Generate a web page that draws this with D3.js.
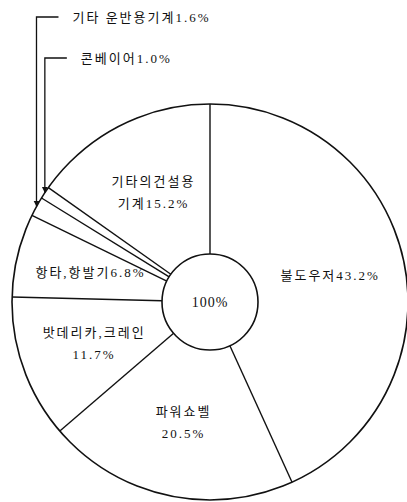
<!DOCTYPE html>
<html>
<head>
<meta charset="utf-8">
<script src="https://cdn.jsdelivr.net/npm/d3@7"></script>
<style>
    body { margin: 0; background: #fff; }
    svg text {
        font-family: "Liberation Serif", "Noto Sans CJK KR", serif;
        font-size: 13px;
        letter-spacing: 2px;
        fill: #111;
    }
    svg text.num { font-size: 14px; letter-spacing: 1px; }
</style>
</head>
<body>
<div id="chart"></div>
<script>
// shares of construction machinery, clockwise from 12 o'clock
const categories = ["불도우저", "파워쇼벨", "밧데리카,크레인", "항타,항발기", "기타 운반용기계", "콘베이어", "기타의건설용기계"];
const shares = [43.2, 20.5, 11.7, 6.8, 1.6, 1.0, 15.2];
const centerLabel = "100%";

// which slices get an outside label with an arrow (and the y of that label)
const outsideLabels = { "기타 운반용기계": 17, "콘베이어": 58 };
// where a label wraps: text before the break goes on the first line
const labelBreak = { "파워쇼벨": 4, "밧데리카,크레인": 8, "기타의건설용기계": 6 };

const width = 407, height = 502;
const cx = 210, cy = 302;
const outerR = 198, innerR = 48;

const svg = d3.select("#chart")
    .append("svg")
    .attr("width", width)
    .attr("height", height);

svg.append("defs").append("marker")
    .attr("id", "arrow")
    .attr("viewBox", "0 0 10 10")
    .attr("refX", 10)
    .attr("refY", 5)
    .attr("markerWidth", 6)
    .attr("markerHeight", 8)
    .attr("markerUnits", "userSpaceOnUse")
    .attr("orient", "auto")
    .append("path")
    .attr("d", "M0,0 L10,5 L0,10 Z")
    .attr("fill", "#111");

const data = categories.map((c, i) => ({ name: c, value: shares[i] }));

const pie = d3.pie().sort(null).value(d => d.value);
const arcs = pie(data);

const g = svg.append("g").attr("transform", `translate(${cx},${cy})`);

// outer circle
g.append("circle")
    .attr("r", outerR)
    .attr("fill", "none")
    .attr("stroke", "#111")
    .attr("stroke-width", 1.6);

// slice boundaries, from the inner circle out to the rim
g.selectAll("line.sep")
    .data(arcs)
    .enter()
    .append("line")
    .attr("class", "sep")
    .attr("x1", d => innerR * Math.sin(d.startAngle))
    .attr("y1", d => -innerR * Math.cos(d.startAngle))
    .attr("x2", d => outerR * Math.sin(d.startAngle))
    .attr("y2", d => -outerR * Math.cos(d.startAngle))
    .attr("stroke", "#111")
    .attr("stroke-width", 1.4);

// center circle
g.append("circle")
    .attr("r", innerR)
    .attr("fill", "#fff")
    .attr("stroke", "#111")
    .attr("stroke-width", 1.6);

g.append("text")
    .attr("class", "num")
    .attr("text-anchor", "middle")
    .attr("dy", "0.35em")
    .text(centerLabel);

const fmt = d => d.toFixed(1) + "%";

// inside labels
const labelArc = d3.arc().innerRadius(123).outerRadius(123);
const inside = arcs.filter(d => !(d.data.name in outsideLabels));

inside.forEach(d => {
    const [x, y] = labelArc.centroid(d);
    const full = d.data.name + fmt(d.data.value);
    const br = labelBreak[d.data.name];
    const lines = br === undefined ? [full] : [full.slice(0, br), full.slice(br)];
    const t = g.append("text")
        .attr("text-anchor", "middle")
        .attr("x", x)
        .attr("y", y - (lines.length - 1) * 11);
    lines.forEach((l, i) => {
        t.append("tspan")
            .attr("x", x)
            .attr("dy", i === 0 ? "0.35em" : 22)
            .text(l);
    });
});

// outside labels with arrows
arcs.filter(d => d.data.name in outsideLabels).forEach(d => {
    const mid = (d.startAngle + d.endAngle) / 2;
    const tipX = cx + outerR * Math.sin(mid);
    const tipY = cy - outerR * Math.cos(mid);
    const ly = outsideLabels[d.data.name];

    svg.append("path")
        .attr("d", `M${tipX + 22},${ly} H${tipX} V${tipY}`)
        .attr("fill", "none")
        .attr("stroke", "#111")
        .attr("stroke-width", 1.3)
        .attr("marker-end", "url(#arrow)");

    svg.append("text")
        .attr("x", tipX + 36)
        .attr("y", ly)
        .attr("dy", "0.35em")
        .text(d.data.name + fmt(d.data.value));
});
</script>
</body>
</html>
